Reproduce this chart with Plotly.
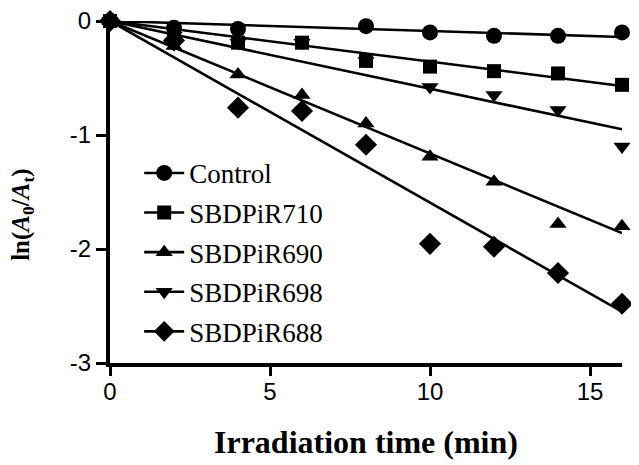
import plotly.graph_objects as go

time_min = [0, 2, 4, 6, 8, 10, 12, 14, 16]
names = ["Control", "SBDPiR710", "SBDPiR690", "SBDPiR698", "SBDPiR688"]
control = [0, -0.06, -0.07, None, -0.045, -0.10, -0.13, -0.13, -0.10]
sbdpir710 = [0, -0.13, -0.19, -0.19, -0.35, -0.40, -0.44, -0.46, -0.56]
sbdpir690 = [0, -0.22, -0.47, -0.65, -0.90, -1.19, -1.41, -1.78, -1.80]
sbdpir698 = [0, -0.13, -0.19, -0.19, -0.35, -0.58, -0.65, -0.78, -1.10]
sbdpir688 = [0, -0.17, -0.76, -0.79, -1.085, -1.955, -1.98, -2.21, -2.48]
fit_x = [0, 16]
fit_end = [-0.14, -0.57, -1.86, -0.95, -2.55]
x_ticks = [0, 5, 10, 15]
y_ticks = [0, -1, -2, -3]
y_ticktext = ["0", "-1", "-2", "-3"]

series = [control, sbdpir710, sbdpir690, sbdpir698, sbdpir688]
symbols = ["circle", "square", "triangle-up", "triangle-down", "diamond"]
sizes = [16, 14, 15, 15, 17]

fig = go.Figure()
for name, ys, sym, sz, fe in zip(names, series, symbols, sizes, fit_end):
    fig.add_trace(go.Scatter(x=fit_x, y=[0, fe], mode="lines",
                             line=dict(color="black", width=2.6),
                             showlegend=False, cliponaxis=False, hoverinfo="skip"))
    fig.add_trace(go.Scatter(x=time_min, y=ys, mode="markers",
                             marker=dict(symbol=sym, size=sz, color="black"),
                             showlegend=False, cliponaxis=False))
for name, sym, sz in zip(names, symbols, sizes):
    fig.add_trace(go.Scatter(x=[None], y=[None], mode="lines+markers", name=name,
                             legendgroup=name,
                             line=dict(color="black", width=2.6),
                             marker=dict(symbol=sym, size=sz, color="black")))

fig.update_layout(
    width=631, height=457,
    margin=dict(l=102, r=17, t=13, b=102),
    plot_bgcolor="white", paper_bgcolor="white",
    showlegend=True,
    legend=dict(x=0.057, y=0.626, xanchor="left", yanchor="top",
                font=dict(family="Liberation Serif", size=27, color="black"),
                bgcolor="rgba(0,0,0,0)", tracegroupgap=1.5, itemwidth=40),
    xaxis=dict(range=[0, 16], tickvals=x_ticks, showgrid=False, zeroline=False,
               automargin=False, ticklabeloverflow="allow",
               showline=True, linewidth=4, linecolor="black",
               ticks="outside", ticklen=9, tickwidth=3, tickcolor="black",
               ticklabelstandoff=-5,
               tickfont=dict(family="Liberation Sans", size=24, color="black")),
    yaxis=dict(range=[-3, 0], tickvals=y_ticks, ticktext=y_ticktext,
               showgrid=False, zeroline=False, automargin=False,
               ticklabeloverflow="allow",
               showline=True, linewidth=4, linecolor="black",
               ticks="outside", ticklen=10, tickwidth=3, tickcolor="black",
               tickfont=dict(family="Liberation Sans", size=24, color="black")),
    annotations=[
        dict(text="<b>Irradiation time (min)</b>", xref="paper", yref="paper",
             x=0.5, y=-0.231, xanchor="center", yanchor="middle", showarrow=False,
             font=dict(family="Liberation Serif", size=32, color="black")),
        dict(text="<b>ln(<i>A</i><sub>0</sub>/<i>A</i><sub>t</sub>)</b>", xref="paper", yref="paper",
             x=-0.17, y=0.433, xanchor="center", yanchor="middle", showarrow=False,
             textangle=-90,
             font=dict(family="Liberation Serif", size=25, color="black")),
    ],
)
fig.write_html("out.html")
